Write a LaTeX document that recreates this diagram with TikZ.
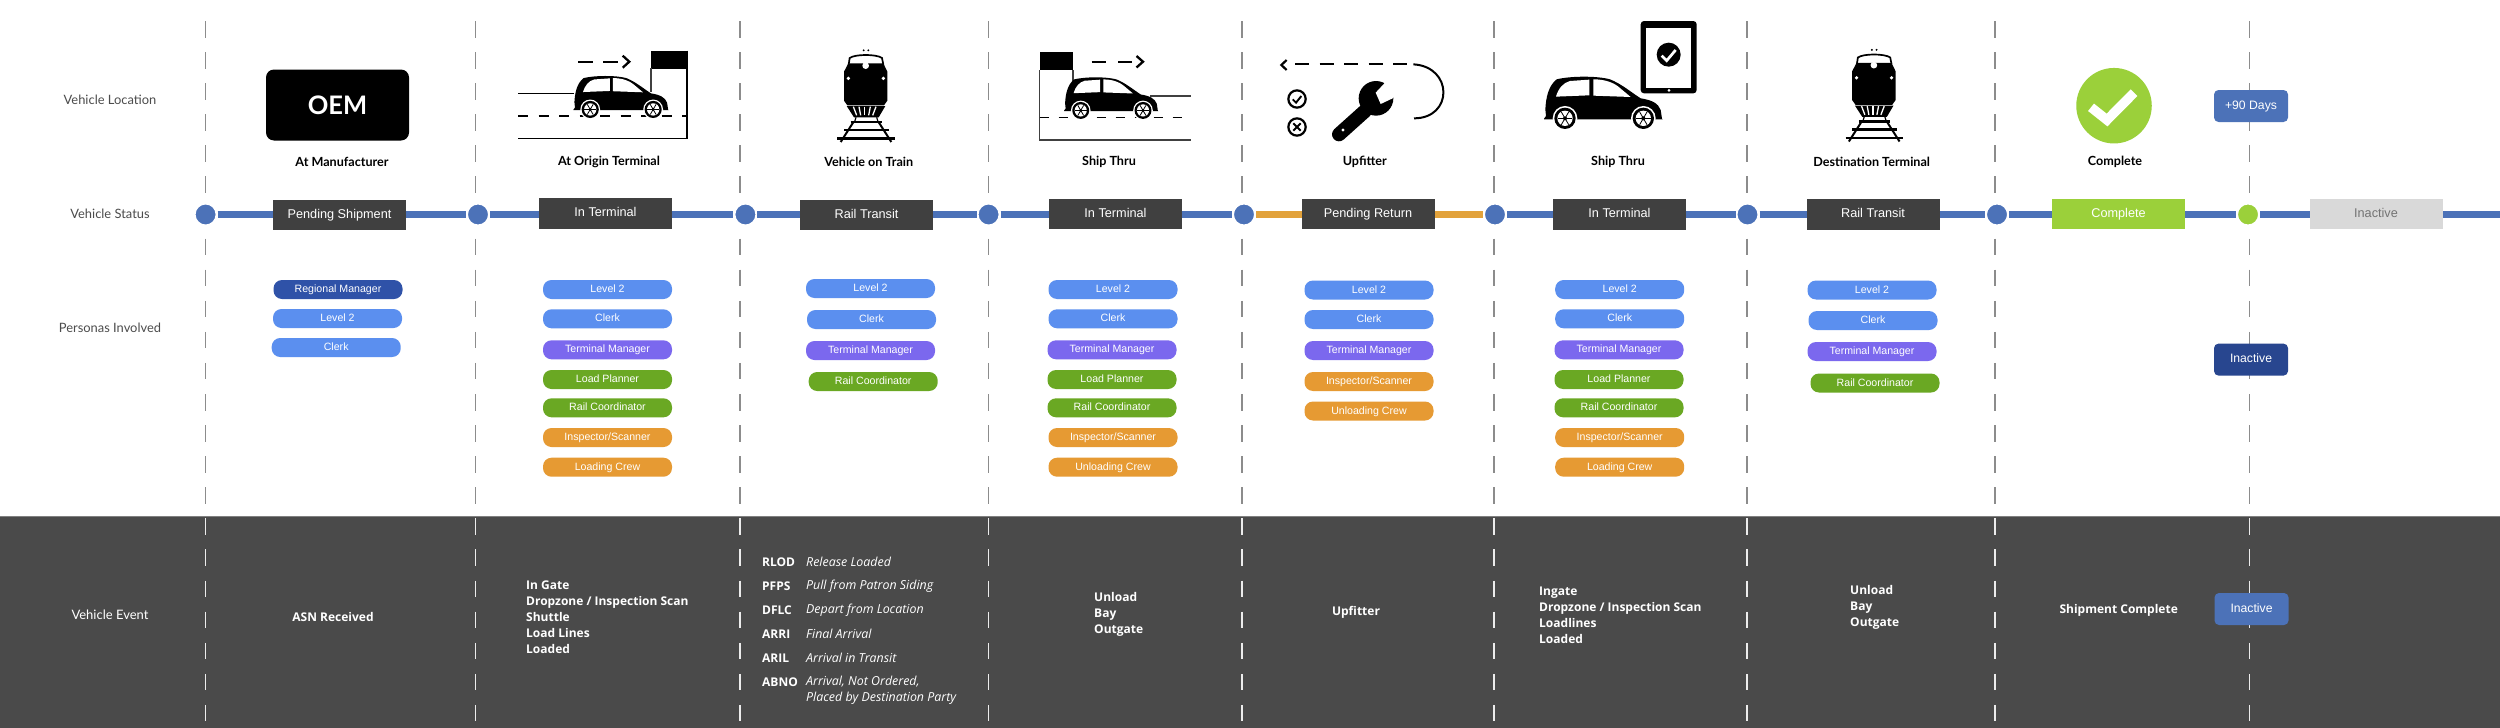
\documentclass[tikz,border=0pt]{standalone}
\usepackage{fontspec}
\setmainfont{Lato}
\newfontfamily\arialf{Liberation Sans}
\newfontfamily\evf{Open Sans}
\newcommand\fs[1]{\fontsize{#1pt}{#1pt}\selectfont}
\definecolor{bluel}{HTML}{4C72B8}
\definecolor{orangel}{HTML}{E2A23B}
\definecolor{boxd}{HTML}{404040}
\definecolor{bandc}{HTML}{4A4A4A}
\definecolor{grn}{HTML}{9BD03A}
\definecolor{pblue}{HTML}{5B8FEF}
\definecolor{pdark}{HTML}{2F52A8}
\definecolor{ppur}{HTML}{7B68EE}
\definecolor{pgrn}{HTML}{6AA823}
\definecolor{porg}{HTML}{E69A33}
\definecolor{rulegray}{HTML}{8C8C8C}
\tikzset{
  lane/.style={line width=7.5pt},
  stopdot/.style={circle,fill=bluel,draw=white,line width=2pt,minimum size=22pt,inner sep=0pt},
  statusbox/.style={rectangle,fill=boxd,text=white,inner sep=0pt,minimum width=133pt,minimum height=30.5pt,font=\arialf\fs{12.7},text height=9pt,text depth=2.5pt},
  pill/.style={rectangle,rounded corners=8.5pt,text=white,inner sep=0pt,minimum width=129pt,minimum height=19pt,font=\arialf\fs{10.6},text height=8pt,text depth=2pt},
  tagbox/.style={rectangle,rounded corners=4.5pt,text=white,inner sep=0pt,minimum width=74pt,minimum height=32pt,font=\arialf\fs{12.2},text height=9pt,text depth=2.5pt},
  sidelabel/.style={text=black!70,font=\fs{12.9},inner sep=0pt},
  iconlabel/.style={text=black,font=\bfseries\fs{12.6},inner sep=0pt},
  evt/.style={text=white,font=\evf\bfseries\fs{12},inner sep=0pt},
  evlist/.style={text=white,font=\evf\bfseries\fontsize{12pt}{16pt}\selectfont,inner sep=0pt,align=left,anchor=west},
  evcode/.style={text=white,font=\evf\bfseries\fs{12},inner sep=0pt,anchor=west},
  evdesc/.style={text=white,font=\evf\itshape\fs{12.4},inner sep=0pt,anchor=west},
  thinrule/.style={line width=1.2pt,black!75},
  thickdash/.style={line width=2.3pt,black},
}
\newcommand\pillnode[5]{\node[pill,fill=#2] (#1) at (#3,#4) {#5};}
% car drawn in its own 356-wide coordinates
\newcommand\caricon[3]{%
\begin{scope}[shift={(#1,#2)},scale=#3]
 \fill[black] (42,326) -- (48,318) -- (46,298) .. controls (48,262) and (55,228) .. (80,208)
   .. controls (120,198) and (200,197) .. (240,208) .. controls (275,222) and (305,248) .. (332,265)
   .. controls (365,270) and (385,280) .. (392,300) -- (396,326) -- (398,328) -- (42,328) -- cycle;
 \fill[white] (78,260) .. controls (85,235) and (100,218) .. (120,213) -- (178,209) -- (178,256) -- cycle;
 \fill[white] (190,208) .. controls (225,208) and (250,218) .. (265,230) -- (302,261) -- (190,257) -- cycle;
 \foreach \wx in {105,340}{
  \fill[white] (\wx,325) circle[radius=37];
  \fill[black] (\wx,325) circle[radius=32];
  \fill[white] (\wx,325) circle[radius=23];
  \foreach \a in {0,60,...,300}{\draw[black,line width=.8pt] (\wx,325) -- ++(\a:22);}
  \fill[black] (\wx,325) circle[radius=6];
 }
\end{scope}}
% train drawn in its own coordinates
\newcommand\trainicon[2]{%
\begin{scope}[shift={(#1,#2)},scale=1/3]
 \fill (131,31) circle[radius=3.2]; \fill (145,31) circle[radius=3.2];
 \draw[line width=1.7pt] (86,74) -- (89,54) .. controls (105,42) and (170,42) .. (186,54) -- (190,74);
 \fill[black] (72,95) -- (85,70) -- (190,70) -- (202,95) -- (202,182) -- (192,196) -- (82,196) -- (72,182) -- cycle;
 \fill[white] (137,77) circle[radius=10];
 \fill[white] (85,115) circle[radius=5.5];
 \fill[white] (190,115) circle[radius=5.5];
 \fill[black] (80,198) -- (196,198) -- (176,232) -- (102,232) -- cycle;
 \foreach \p/\q in {100/110,117/122,134/134,151/146,168/158}{\draw[white,line width=1.3pt] (\p,200) -- (\q,226);}
 \draw[line width=1.2pt] (108,232) -- (104,245) (170,232) -- (174,245);
 \draw[line width=2pt] (101,245) -- (62,306) (175,245) -- (214,306);
 \draw[line width=2.3pt] (92,246) -- (186,246);
 \draw[line width=2.3pt] (72,270) -- (206,270);
 \draw[line width=2.5pt] (52,296) -- (224,296);
\end{scope}}
\begin{document}
\begin{tikzpicture}[x=1pt,y=-1pt]
\useasboundingbox (0,0) rectangle (2500,728);
\fill[white] (0,0) rectangle (2500,728);
\fill[bandc] (0,516) rectangle (2500,728);
\draw[gray,line width=.8pt] (0,516) -- (2500,516);

% dashed column rules
\foreach \x in {205.5,475.5,740,988.5,1242,1494,1747,1995,2249.5}{
  \draw[rulegray,line width=1.2pt,dash pattern=on 16.5pt off 14.59pt] (\x,21) -- (\x,505);
  \draw[white!85!gray,line width=1.1pt,dash pattern=on 16.5pt off 14.59pt] (\x,518.4) -- (\x,722);
}

% row labels
\node[sidelabel] (rowloc) at (110,99.5) {Vehicle Location};
\node[sidelabel] (rowstat) at (110,214) {Vehicle Status};
\node[sidelabel] (rowpers) at (110,328) {Personas Involved};
\node[text=white,font=\fs{13},inner sep=0pt] (rowevt) at (110,615) {Vehicle Event};

% status stops
\node[stopdot] (s1) at (205.6,214.5) {};
\node[stopdot] (s2) at (478,214.5) {};
\node[stopdot] (s3) at (745.4,214.5) {};
\node[stopdot] (s4) at (988.6,214.5) {};
\node[stopdot] (s5) at (1244,214.5) {};
\node[stopdot] (s6) at (1495,214.5) {};
\node[stopdot] (s7) at (1747.5,214.5) {};
\node[stopdot] (s8) at (1997,214.5) {};
\node[stopdot,fill=grn] (s9) at (2248,214.5) {};
\coordinate (lineend) at (2500,214.5);
\draw[lane,bluel] (s1) -- (s2);
\draw[lane,bluel] (s2) -- (s3);
\draw[lane,bluel] (s3) -- (s4);
\draw[lane,bluel] (s4) -- (s5);
\draw[lane,orangel] (s5) -- (s6);
\draw[lane,bluel] (s6) -- (s7);
\draw[lane,bluel] (s7) -- (s8);
\draw[lane,bluel] (s8) -- (s9);
\draw[lane,bluel] (s9) -- (lineend);

% status boxes
\node[statusbox] (b1) at (339.5,215) {Pending Shipment};
\node[statusbox] (b2) at (605.5,213.5) {In Terminal};
\node[statusbox] (b3) at (866.5,215) {Rail Transit};
\node[statusbox] (b4) at (1115.5,214) {In Terminal};
\node[statusbox] (b5) at (1368,214) {Pending Return};
\node[statusbox] (b6) at (1619.5,214.5) {In Terminal};
\node[statusbox] (b7) at (1873,214.5) {Rail Transit};
\node[statusbox,fill=grn] (b8) at (2118.5,214) {Complete};
\node[statusbox,fill=black!15,text=black!55] (b9) at (2376,214) {Inactive};

% OEM
\node[rectangle,fill=black,rounded corners=8pt,minimum width=143pt,minimum height=71pt,inner sep=0pt,text=white,font=\bfseries\fs{25.5}] (oem) at (337.5,105) {OEM};

% origin terminal scene
\fill[black] (651,50.5) rectangle (687.5,68.5);
\draw[thinrule] (651,68) -- (651,92);
\draw[line width=1.3pt,black] (687,50.5) -- (687,138.5) -- (518,138.5);
\draw[line width=1.2pt,black] (518,93.7) -- (574,93.7);
\draw[line width=1.1pt,black,dash pattern=on 10pt off 10.5pt] (518,116) -- (687,116);
\caricon{562.1}{22.4}{.2678}
\draw[thickdash] (578,61.7) -- (593.3,61.7) (603,61.7) -- (618,61.7);
\draw[thickdash,miter limit=8] (622.7,55.7) -- (629.3,61.7) -- (622.7,67.7);

% train 1
\trainicon{820}{40}

% ship thru scene
\fill[black] (1039.6,51.7) rectangle (1073,70);
\draw[line width=1.3pt,black!75] (1039.6,70) -- (1039.6,140) -- (1190.8,140);
\draw[thinrule] (1073,70) -- (1073,85);
\draw[line width=1.3pt,black!75] (1150,96) -- (1190.8,96);
\draw[line width=1.1pt,black,dash pattern=on 9pt off 10pt] (1039.6,117.7) -- (1190.8,117.7);
\caricon{1052.9}{24.3}{.265}
\draw[thickdash] (1091.6,61.7) -- (1106,61.7) (1118,61.7) -- (1131.7,61.7);
\draw[thickdash] (1136.5,56) -- (1143,61.7) -- (1136.5,67.5);

% upfitter
\begin{scope}[shift={(1270,50)},scale=1/3]
 \draw[line width=2.2pt,dash pattern=on 14pt off 10.5pt] (75,43) -- (430,43);
 \draw[line width=2.2pt] (50,30) -- (34,45) -- (50,60);
 \draw[line width=2pt] (430,43) .. controls (550,50) and (550,205) .. (432,205);
 \draw[line width=2.2pt] (81,147) circle[radius=26];
 \draw[line width=1.9pt] (68,148) -- (78,158) -- (94,138);
 \draw[line width=2.2pt] (81,231) circle[radius=26];
 \draw[line width=2pt] (70,220) -- (92,242) (92,220) -- (70,242);
 \draw[line width=14pt,line cap=round] (207,253) -- (285,183);
 \fill[black] (318,145) circle[radius=52];
 \fill[white] (345,98) -- (317,128) -- (332,162) -- (368,145) -- (400,110) -- (372,82) -- cycle;
 \fill[white] (219,240) circle[radius=5];
\end{scope}

% ship thru with tablet
\caricon{1530}{10}{.3333}
\begin{scope}[shift={(1530,10)},scale=1/3]
 \fill[black,rounded corners=3.3pt] (332,33) rectangle (500,250);
 \fill[white] (349,53) rectangle (484,233);
 \fill[white] (417,241) circle[radius=4.5];
 \fill[black] (416,134) circle[radius=36];
 \draw[white,line width=2.7pt] (395,137) -- (410,152) -- (437,120);
\end{scope}

% train 2
\trainicon{1828.2}{39.5}

% complete check
\node[circle,fill=grn,minimum size=75.5pt,inner sep=0pt] (okdisc) at (2114,105.7) {};
\draw[white,line width=9.5pt] (2091,107.3) -- (2107,120) -- (2134,92.7);

% icon labels
\node[iconlabel] (l1) at (342,161.7) {At Manufacturer};
\node[iconlabel] (l2) at (609,161.7) {At Origin Terminal};
\node[iconlabel] (l3) at (868.8,161.7) {Vehicle on Train};
\node[iconlabel] (l4) at (1109,161.7) {Ship Thru};
\node[iconlabel] (l5) at (1364.8,161.7) {Upfitter};
\node[iconlabel] (l6) at (1618,161.7) {Ship Thru};
\node[iconlabel] (l7) at (1871.7,161.7) {Destination Terminal};
\node[iconlabel] (l8) at (2115,161.7) {Complete};

% tags
\node[tagbox,fill=bluel] (t90) at (2251,106) {+90 Days};
\node[tagbox,fill=pdark!85!black] (tinact) at (2251,359.6) {Inactive};
\node[tagbox,fill=bluel] (tinact2) at (2251.5,609) {Inactive};

% personas
\pillnode{a1}{pdark}{338}{289.5}{Regional Manager}
\pillnode{a2}{pblue}{337.5}{318.5}{Level 2}
\pillnode{a3}{pblue}{336.2}{347.5}{Clerk}

\pillnode{c1}{pblue}{607.5}{289.5}{Level 2}
\pillnode{c2}{pblue}{607.5}{318.8}{Clerk}
\pillnode{c3}{ppur}{607.5}{349.8}{Terminal Manager}
\pillnode{c4}{pgrn}{607.5}{379.5}{Load Planner}
\pillnode{c5}{pgrn}{607.5}{407.8}{Rail Coordinator}
\pillnode{c6}{porg}{607.5}{437.5}{Inspector/Scanner}
\pillnode{c7}{porg}{607.5}{467.2}{Loading Crew}

\pillnode{d1}{pblue}{870.5}{288.5}{Level 2}
\pillnode{d2}{pblue}{871.5}{319.5}{Clerk}
\pillnode{d3}{ppur}{870.5}{350.5}{Terminal Manager}
\pillnode{d4}{pgrn}{873.2}{381.5}{Rail Coordinator}

\pillnode{e1}{pblue}{1113}{289.5}{Level 2}
\pillnode{e2}{pblue}{1113}{318.8}{Clerk}
\pillnode{e3}{ppur}{1112}{349.8}{Terminal Manager}
\pillnode{e4}{pgrn}{1112}{379.5}{Load Planner}
\pillnode{e5}{pgrn}{1112}{407.8}{Rail Coordinator}
\pillnode{e6}{porg}{1113}{437.5}{Inspector/Scanner}
\pillnode{e7}{porg}{1113}{467.2}{Unloading Crew}

\pillnode{f1}{pblue}{1369}{290}{Level 2}
\pillnode{f2}{pblue}{1369}{319.5}{Clerk}
\pillnode{f3}{ppur}{1369}{350.5}{Terminal Manager}
\pillnode{f4}{porg}{1369}{381.5}{Inspector/Scanner}
\pillnode{f5}{porg}{1369}{411}{Unloading Crew}

\pillnode{g1}{pblue}{1619.7}{289.5}{Level 2}
\pillnode{g2}{pblue}{1619.7}{318.8}{Clerk}
\pillnode{g3}{ppur}{1619}{349.8}{Terminal Manager}
\pillnode{g4}{pgrn}{1619}{379.5}{Load Planner}
\pillnode{g5}{pgrn}{1619}{407.8}{Rail Coordinator}
\pillnode{g6}{porg}{1619.7}{437.5}{Inspector/Scanner}
\pillnode{g7}{porg}{1619.7}{467.2}{Loading Crew}

\pillnode{h1}{pblue}{1872}{290}{Level 2}
\pillnode{h2}{pblue}{1873}{320.5}{Clerk}
\pillnode{h3}{ppur}{1872}{351.5}{Terminal Manager}
\pillnode{h4}{pgrn}{1875}{383}{Rail Coordinator}

% vehicle events
\node[evt] (v1) at (333,616.7) {ASN Received};
\node[evlist] (v2) at (526,617.3) {In Gate\\Dropzone / Inspection Scan\\Shuttle\\Load Lines\\Loaded};
\node[evcode] (r1) at (762,562.3) {RLOD};
\node[evdesc] (q1) at (806,562.3) {Release Loaded};
\node[evcode] (r2) at (762,586.3) {PFPS};
\node[evdesc] (q2) at (806,586.3) {Pull from Patron Siding};
\node[evcode] (r3) at (762,610.3) {DFLC};
\node[evdesc] (q3) at (806,610.3) {Depart from Location};
\node[evcode] (r4) at (762,634) {ARRI};
\node[evdesc] (q4) at (806,634) {Final Arrival};
\node[evcode] (r5) at (762,657.7) {ARIL};
\node[evdesc] (q5) at (806,657.7) {Arrival in Transit};
\node[evcode] (r6) at (762,681.7) {ABNO};
\node[evdesc] (q6) at (806,681.7) {Arrival, Not Ordered,};
\node[evdesc] (q7) at (806,698) {Placed by Destination Party};
\node[evlist] (v3) at (1094,614) {Unload\\Bay\\Outgate};
\node[evt] (v4) at (1356,612) {Upfitter};
\node[evlist] (v5) at (1539,615.2) {Ingate\\Dropzone / Inspection Scan\\Loadlines\\Loaded};
\node[evlist] (v6) at (1850,607) {Unload\\Bay\\Outgate};
\node[evt] (v7) at (2118.7,610) {Shipment Complete};
\end{tikzpicture}
\end{document}
